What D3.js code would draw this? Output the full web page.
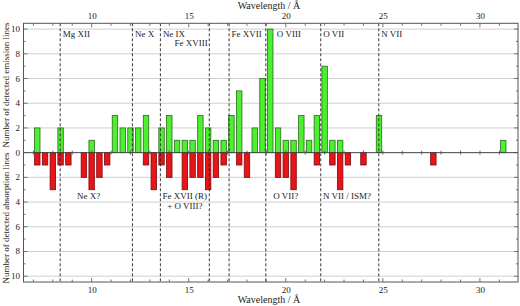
<!DOCTYPE html>
<html>
<head>
<meta charset="utf-8">
<script src="https://cdnjs.cloudflare.com/ajax/libs/d3/7.8.5/d3.min.js"></script>
<style>
  body { margin: 0; background: #fff; }
  text { font-family: "Liberation Serif", "DejaVu Serif", serif; fill: #222; }
</style>
</head>
<body>
<svg id="chart" width="520" height="306"></svg>
<script>
// bin centres (0.4 A bins starting at 7.0 A)
var binCenters = d3.range(61).map(function(k) { return +(7.2 + 0.4 * k).toFixed(1); });

var emission = [2,0,0,2,0,0,0,1,0,0, 3,2,2,2,3,0,2,3,1,1, 1,3,2,1,1,3,5,0,2,6,
                10,2,1,1,3,1,3,7,1,1, 0,0,0,0,3,0,0,0,0,0, 0,0,0,0,0,0,0,0,0,0, 1];
var absorption = [1,1,3,1,1,0,2,3,2,1, 0,0,0,0,1,3,1,2,0,3, 2,2,3,2,1,0,1,2,0,0,
                  0,2,2,3,0,0,1,0,1,3, 1,0,1,0,0,0,0,0,0,0, 0,1,0,0,0,0,0,0,0,0, 0];

// reference line positions and labels
var lineWaves  = [8.38, 12.1, 13.54, 16.06, 17.08, 18.97, 21.8, 24.79];
var topLabels  = ['Mg XII', 'Ne X', 'Ne IX', 'Fe XVIII', 'Fe XVII', 'O VIII', 'O VII', 'N VII'];
var absLabels  = [
  {w: 9.85, lines: ['Ne X?']},
  {w: 14.8, lines: ['Fe XVII (R)', '+ O VIII?']},
  {w: 20.0, lines: ['O VII?']},
  {w: 23.15, lines: ['N VII / ISM?']}
];
var xTicks = [10, 15, 20, 25, 30];
var yTicks = [0, 2, 4, 6, 8, 10];

var svg = d3.select('#chart');
var frame = {l: 23.5, r: 518, t: 23.3, b: 282};

var x = d3.scaleLinear().domain([6.49, 31.96]).range([frame.l, frame.r]);
var y = d3.scaleLinear().domain([-10.47, 10.47]).range([frame.b, frame.t]);
var halfBar = 0.14;

// horizontal grid
var gridVals = [2, 4, 6, 8, 10, -2, -4, -6, -8, -10];
svg.append('g').selectAll('line').data(gridVals).enter().append('line')
  .attr('x1', frame.l).attr('x2', frame.r)
  .attr('y1', function(d) { return y(d); }).attr('y2', function(d) { return y(d); })
  .attr('stroke', '#cfcfcf').attr('stroke-width', 1);

// emission bars
svg.append('g').selectAll('rect').data(binCenters).enter()
  .filter(function(d, i) { return emission[i] > 0; })
  .append('rect')
  .attr('x', function(d) { return x(d - halfBar); })
  .attr('width', function(d) { return x(d + halfBar) - x(d - halfBar); })
  .attr('y', function(d) { return y(emission[binCenters.indexOf(d)]); })
  .attr('height', function(d) { return y(0) - y(emission[binCenters.indexOf(d)]); })
  .attr('fill', '#4cf030').attr('stroke', '#2b6a1c').attr('stroke-width', 0.8);

// absorption bars
svg.append('g').selectAll('rect').data(binCenters).enter()
  .filter(function(d, i) { return absorption[i] > 0; })
  .append('rect')
  .attr('x', function(d) { return x(d - halfBar); })
  .attr('width', function(d) { return x(d + halfBar) - x(d - halfBar); })
  .attr('y', y(0))
  .attr('height', function(d) { return y(-absorption[binCenters.indexOf(d)]) - y(0); })
  .attr('fill', '#e8141a').attr('stroke', '#7a0a0a').attr('stroke-width', 0.8);

// zero line with 1 A ticks
svg.append('line').attr('x1', frame.l).attr('x2', frame.r)
  .attr('y1', y(0)).attr('y2', y(0)).attr('stroke', '#444').attr('stroke-width', 1);
var minorX = d3.range(7, 32, 1);
svg.append('g').selectAll('line').data(minorX).enter().append('line')
  .attr('x1', function(d) { return x(d); }).attr('x2', function(d) { return x(d); })
  .attr('y1', y(0) - 2).attr('y2', y(0) + 2)
  .attr('stroke', '#444').attr('stroke-width', 0.8);

// dashed reference lines
svg.append('g').selectAll('line').data(lineWaves).enter().append('line')
  .attr('x1', function(d) { return x(d); }).attr('x2', function(d) { return x(d); })
  .attr('y1', frame.t).attr('y2', frame.b)
  .attr('stroke', '#222').attr('stroke-width', 0.9).attr('stroke-dasharray', '3,2');

// emission labels
svg.append('g').selectAll('text').data(topLabels).enter().append('text')
  .attr('x', function(d, i) {
    if (d === 'Fe XVIII') return x(lineWaves[i]) - 1.5;
    if (d === 'O VIII') return x(lineWaves[i]) + 11;
    return x(lineWaves[i]) + 2.5;
  })
  .attr('y', function(d) { return d === 'Fe XVIII' ? 46 : 37; })
  .attr('text-anchor', function(d) { return d === 'Fe XVIII' ? 'end' : 'start'; })
  .attr('font-size', 9)
  .text(function(d) { return d; });

// absorption labels
absLabels.forEach(function(a) {
  a.lines.forEach(function(s, j) {
    svg.append('text').attr('x', x(a.w)).attr('y', 199 + j * 9.5)
      .attr('text-anchor', 'middle').attr('font-size', 9).text(s);
  });
});

// frame
svg.append('rect').attr('x', frame.l).attr('y', frame.t)
  .attr('width', frame.r - frame.l).attr('height', frame.b - frame.t)
  .attr('fill', 'none').attr('stroke', '#555').attr('stroke-width', 1);

// top / bottom axes
var xAxisTop = d3.axisTop(x).tickValues(xTicks).tickSize(0).tickPadding(4);
var xAxisBottom = d3.axisBottom(x).tickValues(xTicks).tickSize(0).tickPadding(5);
var gt = svg.append('g').attr('transform', 'translate(0,' + frame.t + ')').call(xAxisTop);
var gb = svg.append('g').attr('transform', 'translate(0,' + frame.b + ')').call(xAxisBottom);
[gt, gb].forEach(function(g) {
  g.select('.domain').remove();
  g.selectAll('text').attr('font-size', 9).attr('font-family', '"Liberation Serif", serif').attr('fill', '#222');
});

// frame ticks on top and bottom
svg.append('g').selectAll('line').data(minorX).enter().append('line')
  .attr('x1', function(d) { return x(d); }).attr('x2', function(d) { return x(d); })
  .attr('y1', frame.t).attr('y2', function(d) { return frame.t + (d % 5 === 0 ? 4 : 2.5); })
  .attr('stroke', '#555').attr('stroke-width', 0.8);
svg.append('g').selectAll('line').data(minorX).enter().append('line')
  .attr('x1', function(d) { return x(d); }).attr('x2', function(d) { return x(d); })
  .attr('y1', frame.b).attr('y2', function(d) { return frame.b - (d % 5 === 0 ? 4 : 2.5); })
  .attr('stroke', '#555').attr('stroke-width', 0.8);

// left / right ticks
var minorY = d3.range(-10, 11, 1);
[frame.l, frame.r].forEach(function(px, side) {
  var dir = side === 0 ? 1 : -1;
  svg.append('g').selectAll('line').data(minorY).enter().append('line')
    .attr('y1', function(d) { return y(d); }).attr('y2', function(d) { return y(d); })
    .attr('x1', px).attr('x2', function(d) { return px + dir * (d % 2 === 0 ? 4 : 2); })
    .attr('stroke', '#555').attr('stroke-width', 0.8);
});

// left tick labels (absolute counts both halves)
var yLabelVals = yTicks.concat(yTicks.slice(1).map(function(v) { return -v; }));
svg.append('g').selectAll('text').data(yLabelVals).enter().append('text')
  .attr('x', frame.l - 3.5).attr('y', function(d) { return y(d) + 3; })
  .attr('text-anchor', 'end').attr('font-size', 9)
  .text(function(d) { return Math.abs(d); });

// axis titles
svg.append('text').attr('x', 269).attr('y', 9).attr('text-anchor', 'middle')
  .attr('font-size', 10).text('Wavelength / Å');
svg.append('text').attr('x', 269).attr('y', 303).attr('text-anchor', 'middle')
  .attr('font-size', 10).text('Wavelength / Å');
svg.append('text').attr('transform', 'translate(8.5,' + 85 + ') rotate(-90)')
  .attr('text-anchor', 'middle').attr('font-size', 9).text('Number of detected emission lines');
svg.append('text').attr('transform', 'translate(8.5,' + 218 + ') rotate(-90)')
  .attr('text-anchor', 'middle').attr('font-size', 9).text('Number of detected absorption lines');
</script>
</body>
</html>
